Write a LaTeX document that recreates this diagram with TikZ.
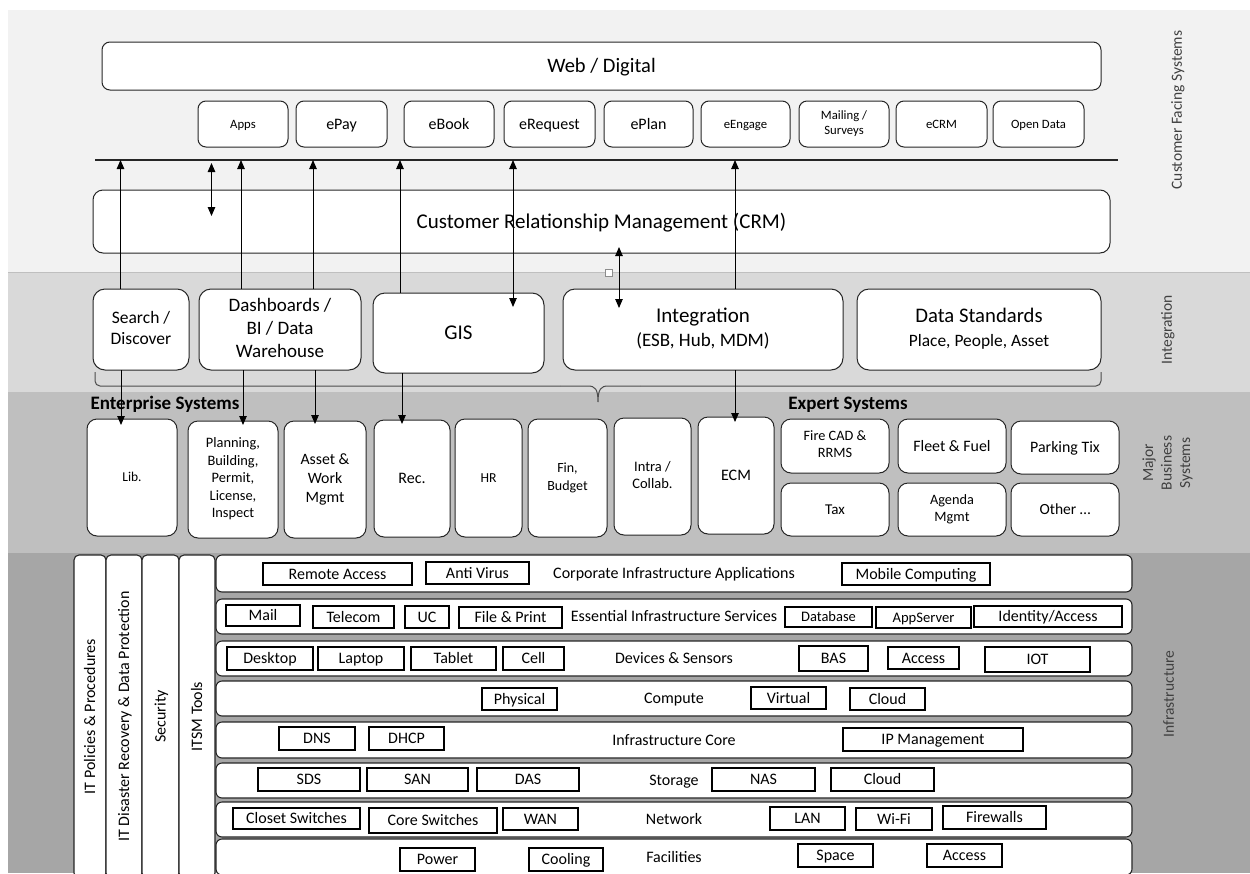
\documentclass[tikz,border=0pt]{standalone}
\usepackage{fontspec}
\usepackage{graphicx}
\setmainfont{Carlito}
\usetikzlibrary{arrows.meta}

\definecolor{bandA}{HTML}{F2F2F2}
\definecolor{bandB}{HTML}{D9D9D9}
\definecolor{bandC}{HTML}{BFBFBF}
\definecolor{bandD}{HTML}{A6A6A6}
\definecolor{edge}{HTML}{262626}
\definecolor{sidetext}{HTML}{404040}

\newcommand{\fsz}[2]{\fontsize{#1}{#2}\selectfont}
% invisible rule that gives every text line the same height and depth
\newcommand{\tstrut}{\rule[-0.22em]{0pt}{1.08em}}
% \boxat{style}{name}{x1}{y1}{x2}{y2}{text}: a node filling the given rectangle
\newcommand{\boxat}[7]{%
  \pgfmathsetmacro\bxw{#5-#3}%
  \pgfmathsetmacro\bxh{#6-#4}%
  \node[#1, minimum width=\bxw pt, minimum height=\bxh pt] (#2) at ({(#3+#5)/2},{(#4+#6)/2}) {#7};}

\begin{document}
\begin{tikzpicture}[x=1pt,y=-1pt,
  every node/.style={inner sep=0pt, outer sep=0pt, align=center, text=black},
  txt/.style={execute at begin node=\tstrut, execute at end node=\tstrut},
  rbox/.style={txt, draw=edge, line width=1pt, fill=white, rounded corners=#1},
  rbox/.default=9pt,
  ibox/.style={txt, draw=black, line width=1.2pt, fill=white, font=\fsz{16}{19}},
  bar/.style={txt, draw=edge, line width=1.1pt, fill=white, rounded corners=6pt, font=\fsz{16}{19}},
  col/.style={draw=edge, line width=1.1pt, fill=white, rounded corners=5pt, font=\fsz{16}{19}},
  side/.style={txt, rotate=90, text=sidetext, font=\fsz{15.5}{18.5}},
  grp/.style={txt, font=\bfseries\fsz{19}{23}},
  tipA/.tip={Triangle[width=7.5pt,length=9pt]},
  one/.style={draw=black, line width=0.9pt, -tipA},
  two/.style={draw=black, line width=0.9pt, tipA-tipA},
  brc/.style={draw=black!70, line width=1pt},
]
\useasboundingbox (0,0) rectangle (1250,873);
\clip (0,0) rectangle (1250,873);

% ---- background bands ----
\fill[white] (0,0) rectangle (1250,873);
\fill[bandA] (8,10) rectangle (1250,272);
\fill[bandB] (8,272) rectangle (1250,392);
\fill[bandC] (8,392) rectangle (1250,553);
\fill[bandD] (8,553) rectangle (1250,873);
\draw[black!25, line width=0.8pt] (8,272) -- (1250,272);

% ---- side captions ----
\node[side] (lblcfs) at (1177,110) {Customer Facing Systems};
\node[side] (lblint) at (1167,330) {Integration};
\node[side] (lblmbs) at (1168,463) {Major\\Business\\Systems};
\node[side] (lblinf) at (1169,694) {Infrastructure};

% ---- customer facing ----
\boxat{rbox=8pt, font=\fsz{20.5}{24}}{web}{102}{42}{1101}{90}{Web / Digital}
\boxat{rbox=8pt, font=\fsz{12.7}{15}}{apps}{198}{101}{288}{147}{Apps}
\boxat{rbox=8pt, font=\fsz{16}{19}}{epay}{296}{101}{387}{147}{ePay}
\boxat{rbox=8pt, font=\fsz{16}{19}}{ebook}{404}{101}{494}{147}{eBook}
\boxat{rbox=8pt, font=\fsz{16}{19}}{ereq}{504}{101}{595}{147}{eRequest}
\boxat{rbox=8pt, font=\fsz{16}{19}}{eplan}{604}{101}{693}{147}{ePlan}
\boxat{rbox=8pt, font=\fsz{12.7}{15}}{eengage}{701}{101}{790}{147}{eEngage}
\boxat{rbox=8pt, font=\fsz{12.7}{15}}{mailing}{799}{101}{889}{147}{Mailing /\\Surveys}
\boxat{rbox=8pt, font=\fsz{12.7}{15}}{ecrm}{896}{101}{987}{147}{eCRM}
\boxat{rbox=8pt, font=\fsz{12.7}{15}}{opendata}{993}{101}{1084}{147}{Open Data}

\coordinate (busL) at (95,160);
\coordinate (busR) at (1118,160);
\draw[edge, line width=1.1pt] (busL) -- (busR);

% ---- major business systems ----
\boxat{rbox=10pt, font=\fsz{13.5}{16}}{lib}{87}{419}{177}{536}{Lib.}
\boxat{rbox=10pt, font=\fsz{14.4}{17.5}}{plan}{188}{421}{278}{538}{Planning,\\Building,\\Permit,\\License,\\Inspect}
\boxat{rbox=10pt, font=\fsz{15.8}{19}}{asset}{284}{421}{366}{538}{Asset \&\\Work\\Mgmt}
\boxat{rbox=10pt, font=\fsz{16}{19}}{rec}{374}{420}{450}{537}{Rec.}
\boxat{rbox=10pt, font=\fsz{13.7}{16}}{hr}{455}{419}{522}{537}{HR}
\boxat{rbox=10pt, font=\fsz{14}{18}}{fin}{528}{419}{607}{537}{Fin,\\Budget}
\boxat{rbox=10pt, font=\fsz{14.5}{17.5}}{intra}{614}{418}{691}{535}{Intra /\\Collab.}
\boxat{rbox=10pt, font=\fsz{16}{19}}{ecm}{698}{417}{774}{534}{ECM}
\boxat{rbox=10pt, font=\fsz{14.3}{17}}{firecad}{781}{419}{889}{473}{Fire CAD \&\\RRMS}
\boxat{rbox=10pt, font=\fsz{15.9}{19}}{fleet}{898}{419}{1006}{473}{Fleet \& Fuel}
\boxat{rbox=10pt, font=\fsz{15.9}{19}}{parking}{1011}{421}{1119}{474}{Parking Tix}
\boxat{rbox=10pt, font=\fsz{15}{18}}{tax}{781}{483}{889}{536}{Tax}
\boxat{rbox=10pt, font=\fsz{14.3}{17}}{agenda}{898}{483}{1006}{536}{Agenda\\Mgmt}
\boxat{rbox=10pt, font=\fsz{15.5}{18}}{other}{1011}{483}{1119}{536}{Other …}

% ---- brace under the integration layer ----
\draw[brc, rounded corners=5pt] (95,372) -- (95,386) -- (560,386);
\draw[brc] (560,386) -- (588,386) .. controls (595,386) and (598,389) .. (598,402)
  .. controls (598,389) and (601,386) .. (608,386) -- (640,386);
\draw[brc, rounded corners=5pt] (640,386) -- (1101,386) -- (1101,372);

\node[grp] (entlbl) at (165,403) {Enterprise Systems};
\node[grp] (explbl) at (848,403) {Expert Systems};

% ---- CRM and integration layer ----
\boxat{rbox=10pt, font=\fsz{21}{25}}{crm}{93}{190}{1110}{253}{Customer Relationship Management (CRM)}

\boxat{rbox=12pt, font=\fsz{17.5}{21}}{search}{93}{289}{189}{370}{Search /\\Discover}
\boxat{rbox=12pt, font=\fsz{19}{23}}{dash}{199}{289}{361}{370}{Dashboards /\\BI / Data\\Warehouse}
\boxat{rbox=12pt, font=\fsz{21}{25}}{gis}{373}{293}{544}{373}{GIS}
\boxat{rbox=12pt, font=\fsz{21}{24}}{integ}{563}{289}{843}{370}{Integration\\\fsz{19}{24}(ESB, Hub, MDM)}
\boxat{rbox=12pt, font=\fsz{20.7}{24}}{datastd}{857}{289}{1101}{370}{Data Standards\\\fsz{17.4}{24}Place, People, Asset}

\node[draw=black!45, fill=white, line width=0.6pt, minimum size=7pt] (handle) at (609,273) {};

% ---- connectors ----
\coordinate (t1) at (120.5,160);
\coordinate (t2) at (211.5,160);
\coordinate (t3) at (241,160);
\coordinate (t4) at (313,160);
\coordinate (t5) at (400,160);
\coordinate (t6) at (513,160);
\coordinate (c7) at (619,250);
\coordinate (t8) at (735,160);
\coordinate (b1) at (121,386);
\coordinate (b3) at (243,386);
\coordinate (b4) at (315,386);
\coordinate (b5) at (402,386);
\coordinate (b8) at (735,386);

\draw[one] (search.north -| t1) -- (t1);
\draw[one] (dash.north -| t3) -- (t3);
\draw[one] (dash.north -| t4) -- (t4);
\draw[one] (gis.north -| t5) -- (t5);
\draw[one] (integ.north -| t8) -- (t8);

\draw[one, shorten >=-6pt] (search.south -| b1) -- (b1 |- lib.north);
\draw[one, shorten >=-4pt] (dash.south -| b3) -- (b3 |- plan.north);
\draw[one, shorten >=-3pt] (dash.south -| b4) -- (b4 |- asset.north);
\draw[one, shorten >=-4pt] (gis.south -| b5) -- (b5 |- rec.north);
\draw[one, shorten >=-5pt] (integ.south -| b8) -- (b8 |- ecm.north);

\draw[two, shorten <=3pt, shorten >=-26pt] (t2) -- (t2 |- crm.north);
\draw[two, shorten >=-14pt] (t6) -- (t6 |- gis.north);
\draw[two, shorten <=-6pt, shorten >=-19pt] (crm.south -| c7) -- (integ.north -| c7);

% ---- infrastructure: vertical disciplines ----
\boxat{col}{itpol}{74}{555}{106}{878}{\rotatebox{90}{\tstrut IT Policies \& Procedures\tstrut}}
\boxat{col}{itdr}{106}{555}{142}{878}{\rotatebox{90}{\tstrut IT Disaster Recovery \& Data Protection\tstrut}}
\boxat{col}{sec}{142}{555}{179}{878}{\rotatebox{90}{\tstrut Security\tstrut}}
\boxat{col}{itsm}{179}{555}{215}{878}{\rotatebox{90}{\tstrut ITSM Tools\tstrut}}

% ---- infrastructure: horizontal layers ----
\boxat{bar}{rowapp}{216}{555}{1132}{592}{Corporate Infrastructure Applications}
\boxat{bar}{rowsvc}{216}{599}{1132}{634}{Essential Infrastructure Services}
\boxat{bar}{rowdev}{216}{641}{1132}{676}{Devices \& Sensors}
\boxat{bar}{rowcmp}{216}{681}{1132}{716}{Compute}
\boxat{bar}{rowcore}{216}{722}{1132}{758}{Infrastructure Core}
\boxat{bar}{rowsto}{216}{763}{1132}{798}{Storage}
\boxat{bar}{rownet}{216}{802}{1132}{837}{Network}
\boxat{bar}{rowfac}{216}{839}{1132}{875}{Facilities}

% layer items
\boxat{ibox}{ra}{263}{563}{412}{585}{Remote Access}
\boxat{ibox}{av}{426}{562}{529}{584}{Anti Virus}
\boxat{ibox}{mc}{842}{563}{990}{585}{Mobile Computing}

\boxat{ibox}{mail}{226}{605}{300}{626}{Mail}
\boxat{ibox}{tel}{313}{606}{394}{628}{Telecom}
\boxat{ibox}{uc}{405}{606}{449}{628}{UC}
\boxat{ibox}{fp}{459}{607}{562}{628}{File \& Print}
\boxat{ibox, font=\fsz{14.5}{17}}{db}{785}{607}{872}{627}{Database}
\boxat{ibox, font=\fsz{14.6}{17}}{appsrv}{876}{607}{971}{628}{AppServer}
\boxat{ibox}{ida}{974}{606}{1122}{627}{Identity/Access}

\boxat{ibox}{desk}{227}{647}{313}{670}{Desktop}
\boxat{ibox}{lap}{318}{647}{404}{670}{Laptop}
\boxat{ibox}{tab}{411}{647}{496}{670}{Tablet}
\boxat{ibox}{cell}{503}{647}{564}{670}{Cell}
\boxat{ibox}{bas}{799}{646}{868}{671}{BAS}
\boxat{ibox}{accdev}{888}{647}{959}{669}{Access}
\boxat{ibox}{iot}{985}{647}{1090}{672}{IOT}

\boxat{ibox}{phys}{482}{688}{557}{710}{Physical}
\boxat{ibox}{virt}{751}{687}{826}{709}{Virtual}
\boxat{ibox}{cloudcmp}{850}{688}{925}{710}{Cloud}

\boxat{ibox}{dns}{279}{727}{355}{750}{DNS}
\boxat{ibox}{dhcp}{369}{727}{444}{750}{DHCP}
\boxat{ibox}{ipm}{843}{728}{1023}{751}{IP Management}

\boxat{ibox}{sds}{258}{768}{360}{791}{SDS}
\boxat{ibox}{san}{367}{768}{468}{791}{SAN}
\boxat{ibox}{das}{477}{768}{579}{791}{DAS}
\boxat{ibox}{nas}{712}{768}{815}{791}{NAS}
\boxat{ibox}{cloudsto}{831}{768}{934}{791}{Cloud}

\boxat{ibox}{closet}{233}{808}{360}{829}{Closet Switches}
\boxat{ibox}{coresw}{369}{808}{497}{833}{Core Switches}
\boxat{ibox}{wan}{503}{808}{578}{830}{WAN}
\boxat{ibox}{lan}{770}{807}{845}{830}{LAN}
\boxat{ibox}{wifi}{856}{808}{932}{830}{Wi-Fi}
\boxat{ibox}{fw}{943}{806}{1046}{829}{Firewalls}

\boxat{ibox}{power}{400}{848}{475}{871}{Power}
\boxat{ibox}{cool}{529}{848}{603}{871}{Cooling}
\boxat{ibox}{space}{798}{844}{873}{867}{Space}
\boxat{ibox}{accfac}{927}{844}{1002}{867}{Access}

\end{tikzpicture}
\end{document}
